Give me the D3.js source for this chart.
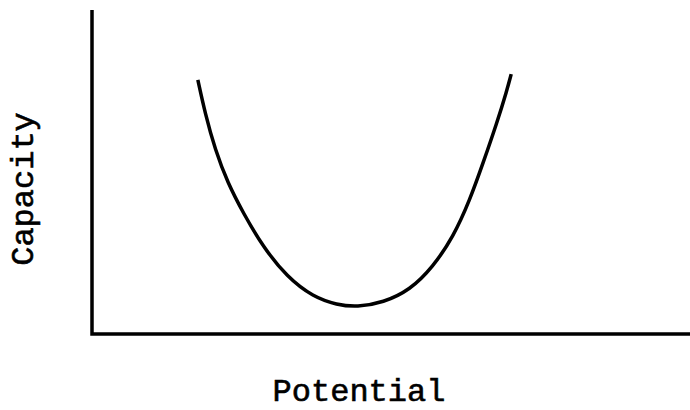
<!DOCTYPE html>
<html>
<head>
<meta charset="utf-8">
<script src="https://cdn.jsdelivr.net/npm/d3@7"></script>
<style>
  html, body { margin: 0; padding: 0; background: #fff; }
  svg { display: block; }
  .label { font-family: "Liberation Mono", "DejaVu Sans Mono", monospace; font-size: 32px; fill: #000; stroke: #000; stroke-width: 0.6px; }
</style>
</head>
<body>
<svg id="chart" width="690" height="410"></svg>
<script>
// Capacity vs. potential: a U-shaped curve with its minimum near the middle
const potential = [1.77, 1.89, 2.06, 2.27, 2.53, 2.86, 3.26, 3.70, 4.10, 4.43,
                   4.87, 5.32, 5.70, 6.04, 6.32, 6.54, 6.77, 6.94, 7.01];
const capacity  = [7.84, 6.82, 5.68, 4.66, 3.73, 2.69, 1.76, 1.14, 0.90, 0.83,
                   0.97, 1.36, 2.07, 2.99, 4.14, 5.28, 6.51, 7.53, 8.02];
const xTitle = "Potential";
const yTitle = "Capacity";

const svg = d3.select("#chart");
const x = d3.scaleLinear().domain([0, 10]).range([92, 690]);
const y = d3.scaleLinear().domain([0, 10]).range([334, 10]);

// Axis frame: left and bottom edges of the plotting area
svg.append("path")
  .attr("d", d3.line()([[x(0), y(10)], [x(0), y(0)], [x(10), y(0)]]))
  .attr("fill", "none")
  .attr("stroke", "#000")
  .attr("stroke-width", 3.5)
  .attr("stroke-linejoin", "miter");

// The curve, smoothed with a B-spline through the sampled readings
const pts = potential.map((p, i) => [p, capacity[i]]);
svg.append("path")
  .datum(pts)
  .attr("fill", "none")
  .attr("stroke", "#000")
  .attr("stroke-width", 3.5)
  .attr("stroke-linecap", "butt")
  .attr("d", d3.line().x(d => x(d[0])).y(d => y(d[1])).curve(d3.curveBasis));

// Axis titles
svg.append("text")
  .attr("class", "label")
  .attr("x", 359)
  .attr("y", 401)
  .attr("text-anchor", "middle")
  .text(xTitle);

svg.append("text")
  .attr("class", "label")
  .attr("transform", "translate(33,189) rotate(-90)")
  .attr("text-anchor", "middle")
  .text(yTitle);
</script>
</body>
</html>
